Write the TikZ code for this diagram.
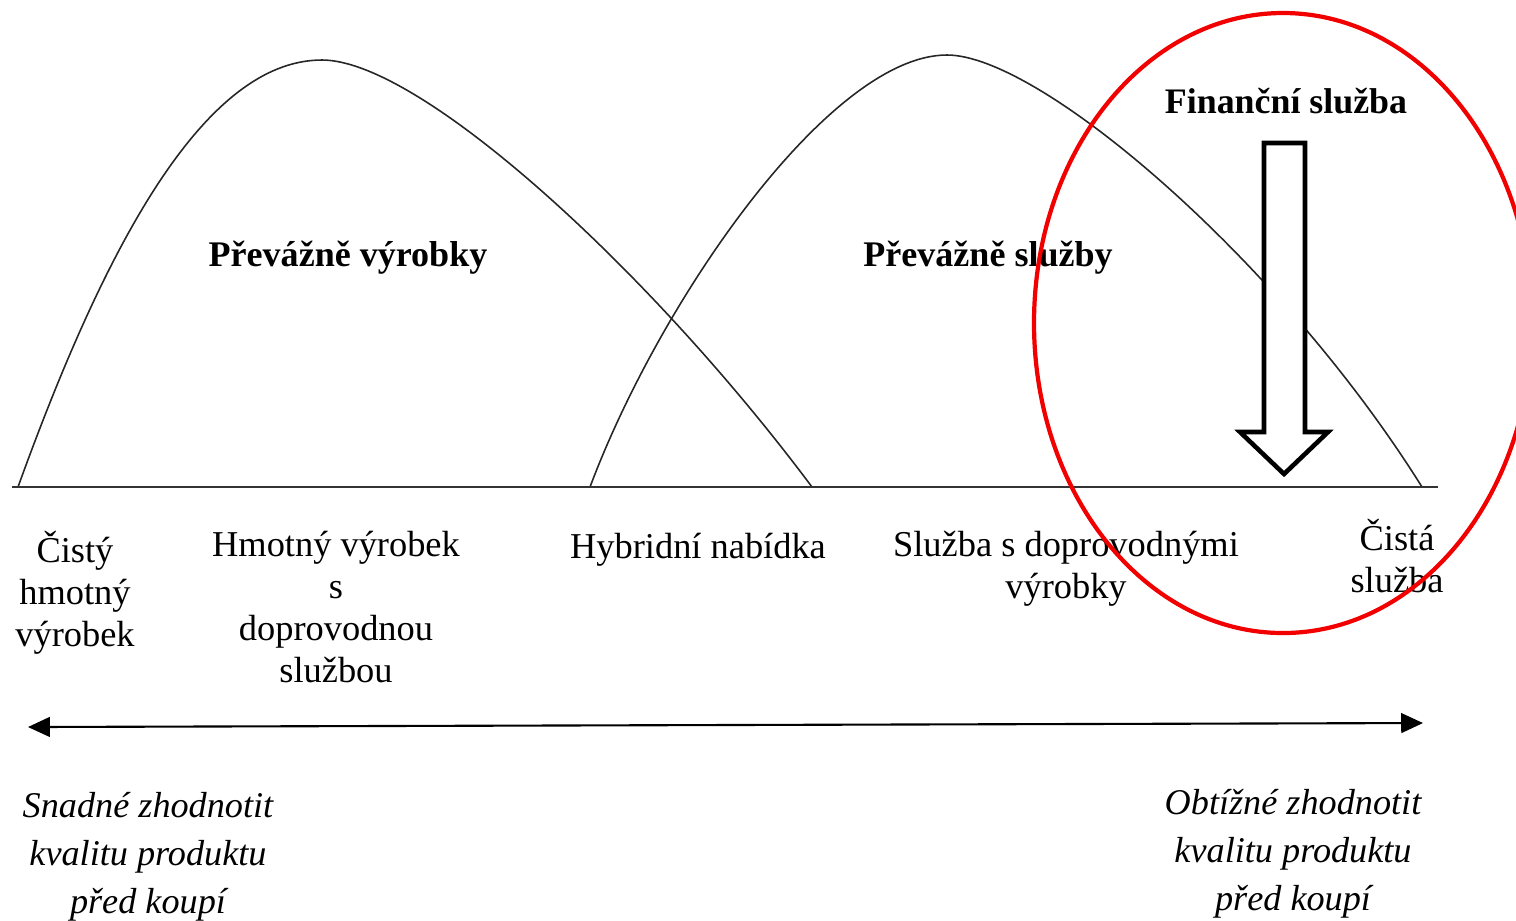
\documentclass[tikz,border=0pt]{standalone}
\usepackage{fontspec}
\setmainfont{Liberation Serif}
\usepackage{tikz}
\usetikzlibrary{arrows.meta,positioning}

\begin{document}
\begin{tikzpicture}[x=0.01cm, y=-0.01cm,
  hump/.style={draw=black!85, line width=0.45pt},
  baseline line/.style={draw=black!80, line width=0.6pt},
  humptitle/.style={font=\fontsize{10.25}{13}\selectfont\bfseries, align=center},
  itemtext/.style={font=\fontsize{10.35}{11.9}\selectfont, align=center},
  notetext/.style={font=\fontsize{10.3}{13.6}\selectfont\itshape, align=center},
  qualityaxis/.style={{Triangle[length=6.2pt,width=5.6pt]}-{Triangle[length=6.2pt,width=5.6pt]}, line width=0.6pt},
  bigarrow/.style={draw=black, fill=white, line width=1.3pt, line join=miter},
  ring/.style={draw=red!95!black, line width=1.2pt}
]
  \useasboundingbox (0,0) rectangle (1516,920);

  % Base line and end points
  \coordinate (base-l) at (12,487);
  \coordinate (base-r) at (1438,487);
  \coordinate (goods-a) at (18,487);
  \coordinate (goods-top) at (322,60);
  \coordinate (goods-b) at (812,487);
  \coordinate (serv-a) at (590,487);
  \coordinate (serv-top) at (947,55);
  \coordinate (serv-b) at (1422,487);

  % Humps
  \draw[hump] (goods-a) .. controls (100,260) and (200,60) .. (goods-top)
    .. controls (420,60) and (650,270) .. (goods-b);
  \draw[hump] (serv-a) .. controls (660,300) and (830,55) .. (serv-top)
    .. controls (1040,55) and (1280,260) .. (serv-b);
  \draw[baseline line] (base-l) -- (base-r);

  % Block arrow
  \draw[bigarrow] (1264,143) -- (1305,143) -- (1305,432) -- (1328,432)
    -- (1284,474) -- (1240,432) -- (1264,432) -- cycle;

  % Titles
  \node[humptitle] (vyrobky) at (348,258) {Převážně výrobky};
  \node[humptitle] (sluzby) at (988,258) {Převážně služby};
  \node[humptitle, font=\fontsize{10.2}{13}\selectfont\bfseries] (financni) at (1286,101) {Finanční služba};

  % Labels under the line
  \node[itemtext, anchor=north] (cisty) at (75,519) {Čistý\\hmotný\\výrobek};
  \node[itemtext, anchor=north] (hmotny) at (336,519) {Hmotný výrobek\\s\\doprovodnou\\službou};
  \node[itemtext, anchor=north] (hybrid) at (698,521) {Hybridní nabídka};
  \node[itemtext, anchor=north] (sdoprov) at (1066,519) {Služba s doprovodnými\\výrobky};
  \node[itemtext, anchor=north] (cista) at (1397,507) {Čistá\\služba};

  % Scale
  \coordinate (scale-l) at (28,727);
  \coordinate (scale-r) at (1423,723);
  \draw[qualityaxis] (scale-l) -- (scale-r);

  \node[notetext, anchor=north] (snadne) at (148,780) {Snadné zhodnotit\\kvalitu produktu\\před koupí};
  \node[notetext, anchor=north] (obtizne) at (1293,777) {Obtížné zhodnotit\\kvalitu produktu\\před koupí};

  % Highlight
  \draw[ring] (1283,323) ellipse (249 and 310);
\end{tikzpicture}
\end{document}
